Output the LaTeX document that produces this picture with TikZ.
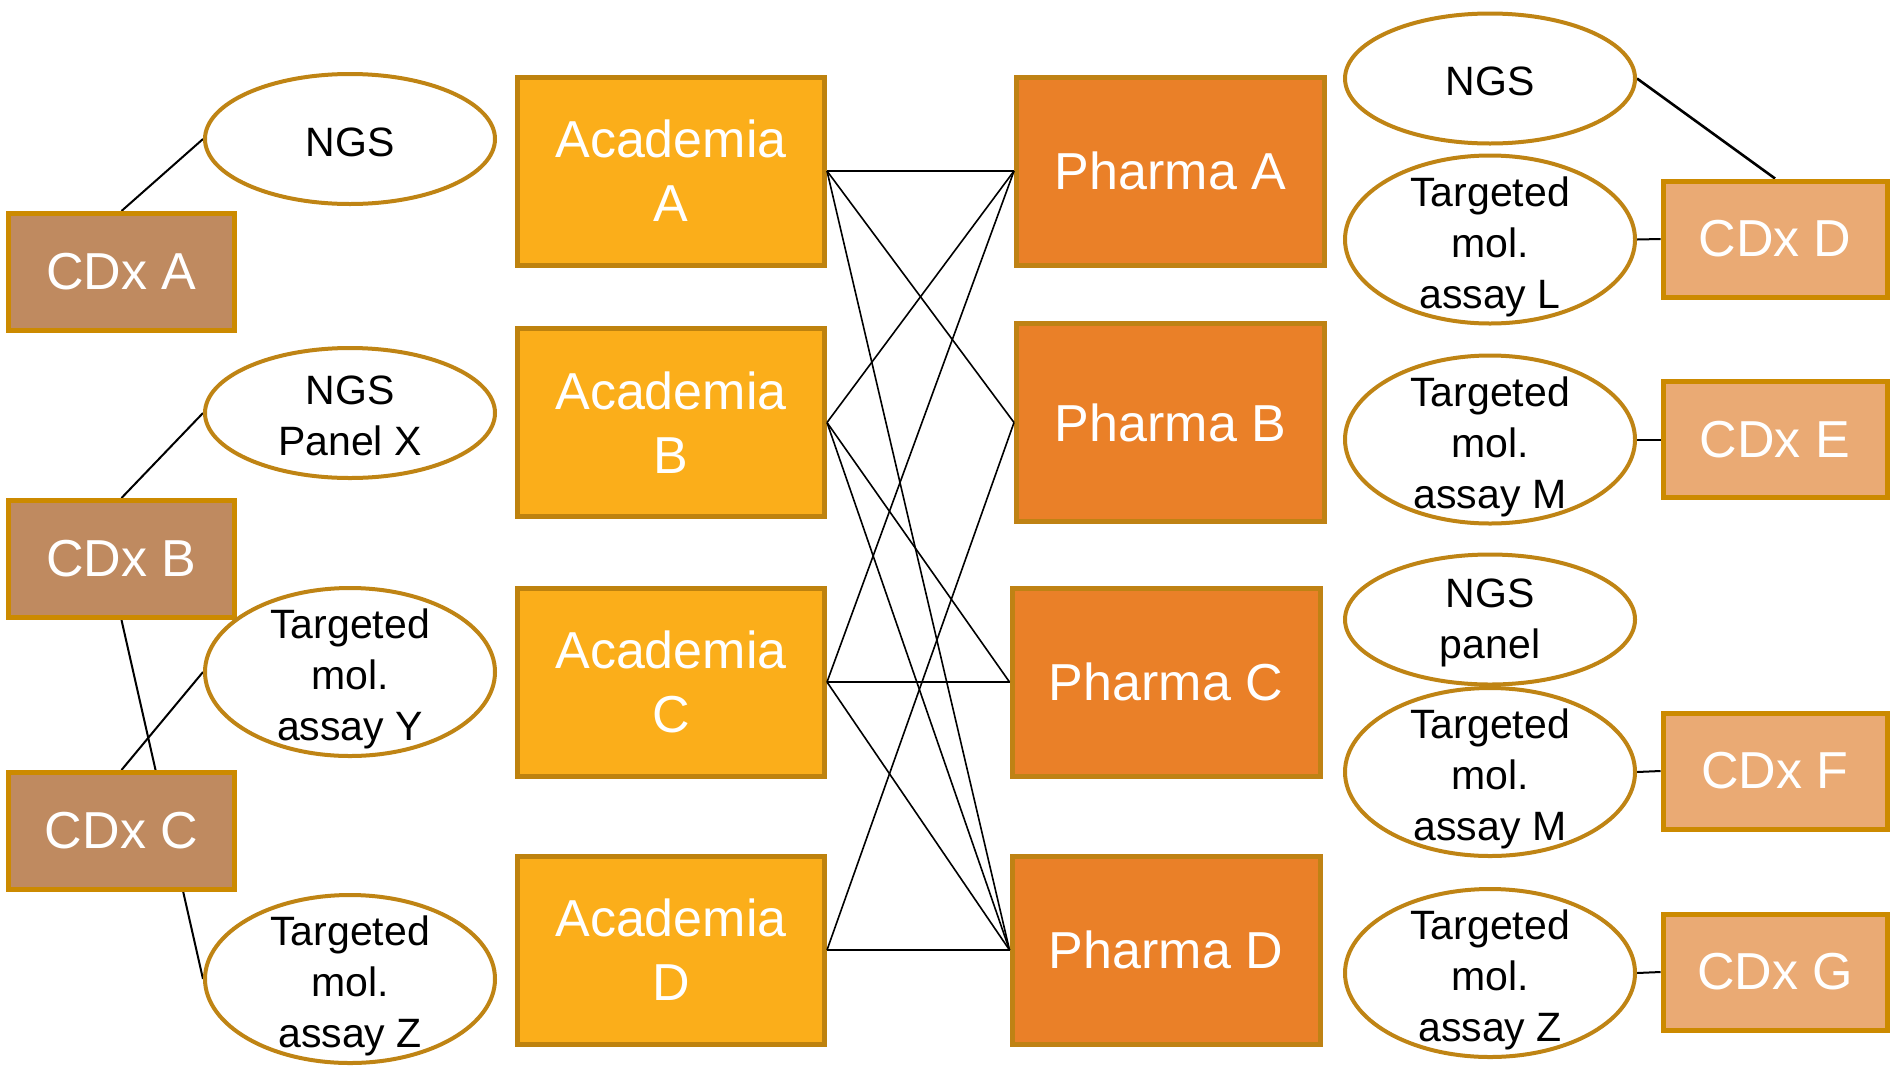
\documentclass[tikz,border=0pt]{standalone}
\usepackage{fontspec}
\setmainfont{Liberation Sans}
\usetikzlibrary{shapes.geometric,backgrounds}
\definecolor{cdxlfill}{HTML}{BF8A60}
\definecolor{cdxrfill}{HTML}{EAAA74}
\definecolor{cdxborder}{HTML}{CC8A00}
\definecolor{acadfill}{HTML}{FBAE1A}
\definecolor{acadborder}{HTML}{BE820E}
\definecolor{pharmafill}{HTML}{EA8028}
\definecolor{pharmaborder}{HTML}{BF8214}
\definecolor{ovalborder}{HTML}{BF8414}
\tikzset{
  base/.style={draw, rectangle, inner sep=0pt, line width=2.5pt, text=white,
    font=\fontsize{26}{32}\selectfont, align=center},
  cdxl/.style={base, fill=cdxlfill, draw=cdxborder, minimum width=113pt, minimum height=58.5pt},
  cdxr/.style={base, fill=cdxrfill, draw=cdxborder, minimum width=112pt, minimum height=58pt},
  acad/.style={base, fill=acadfill, draw=acadborder, minimum width=153.5pt, minimum height=94pt},
  pharma/.style={base, fill=pharmafill, draw=pharmaborder, minimum width=154pt, minimum height=94pt},
  oval/.style={ellipse, draw=ovalborder, line width=2pt, fill=white, inner sep=0pt, minimum width=145pt},
  ovals/.style={oval, minimum height=65pt},
  ovall/.style={oval, minimum height=84pt},
  otext/.style={font=\fontsize{20.5}{25.5}\selectfont, align=center, text=black, inner sep=0pt, yshift=-1.5pt},
  otext3/.style={otext, yshift=-2pt},
  link/.style={draw=black, line width=1pt},
  cross/.style={draw=black, line width=0.8pt},
}
\begin{document}
\begin{tikzpicture}[x=0.5pt, y=-0.5pt]
\useasboundingbox (0,0) rectangle (1893,1066);
% left CDx boxes
\node[cdxl] (cdxA) at (121.5,272) {CDx A};
\node[cdxl] (cdxB) at (121.5,559) {CDx B};
\node[cdxl] (cdxC) at (121.5,831) {CDx C};
% left ovals
\node[ovals, label={[otext, name=ngsLt]center:NGS}] (ngsL) at (350,139) {};
\node[ovals, label={[otext, name=panelXt]center:{NGS\\Panel X}}] (panelX) at (350,413) {};
\node[ovall, label={[otext3, name=tYt]center:{Targeted\\mol.\\assay Y}}] (tY) at (350,672) {};
\node[ovall, label={[otext3, name=tZt]center:{Targeted\\mol.\\assay Z}}] (tZ) at (350,979) {};
% academia
\node[acad] (acA) at (671,171) {Academia\\A};
\node[acad] (acB) at (671,422.5) {Academia\\B};
\node[acad] (acC) at (671,682) {Academia\\C};
\node[acad] (acD) at (671,950) {Academia\\D};
% pharma
\node[pharma] (phA) at (1170.5,171) {Pharma A};
\node[pharma, minimum height=99pt] (phB) at (1170.5,422.5) {Pharma B};
\node[pharma] (phC) at (1166,682) {Pharma C};
\node[pharma] (phD) at (1166,950) {Pharma D};
% right ovals
\node[ovals, label={[otext, name=ngsRt]center:NGS}] (ngsR) at (1490,78.5) {};
\node[ovall, label={[otext3, name=tLt]center:{Targeted\\mol.\\assay L}}] (tL) at (1490,239.5) {};
\node[ovall, label={[otext3, name=tMt]center:{Targeted\\mol.\\assay M}}] (tM) at (1490,439.5) {};
\node[ovals, label={[otext, name=panelRt]center:{NGS\\panel}}] (panelR) at (1490,619.5) {};
\node[ovall, label={[otext3, name=tM2t]center:{Targeted\\mol.\\assay M}}] (tM2) at (1490,772) {};
\node[ovall, label={[otext3, name=tZ2t]center:{Targeted\\mol.\\assay Z}}] (tZ2) at (1490,973) {};
% right CDx
\node[cdxr] (cdxD) at (1775,239) {CDx D};
\node[cdxr] (cdxE) at (1775,439.5) {CDx E};
\node[cdxr] (cdxF) at (1775,771) {CDx F};
\node[cdxr] (cdxG) at (1775,972) {CDx G};
\begin{pgfonlayer}{background}
  \draw[link] (cdxA.north) -- (ngsL.west);
  \draw[link] (cdxB.north) -- (panelX.west);
  \draw[link] (cdxB.south) -- (tZ.west);
  \draw[link] (cdxC.north) -- (tY.west);
  \draw[link, line width=1.3pt] (ngsR.east) -- (cdxD.north);
  \draw[link] (tL.east) -- (cdxD.west);
  \draw[link] (tM.east) -- (cdxE.west);
  \draw[link] (tM2.east) -- (cdxF.west);
  \draw[link] (tZ2.east) -- (cdxG.west);
\end{pgfonlayer}
% academia-pharma links
\draw[cross] (acA.east) -- (phA.west);
\draw[cross] (acA.east) -- (phB.west);
\draw[cross] (acA.east) -- (phD.west);
\draw[cross] (acB.east) -- (phA.west);
\draw[cross] (acB.east) -- (phC.west);
\draw[cross] (acB.east) -- (phD.west);
\draw[cross] (acC.east) -- (phA.west);
\draw[cross] (acC.east) -- (phC.west);
\draw[cross] (acC.east) -- (phD.west);
\draw[cross] (acD.east) -- (phB.west);
\draw[cross] (acD.east) -- (phD.west);
\end{tikzpicture}
\end{document}
